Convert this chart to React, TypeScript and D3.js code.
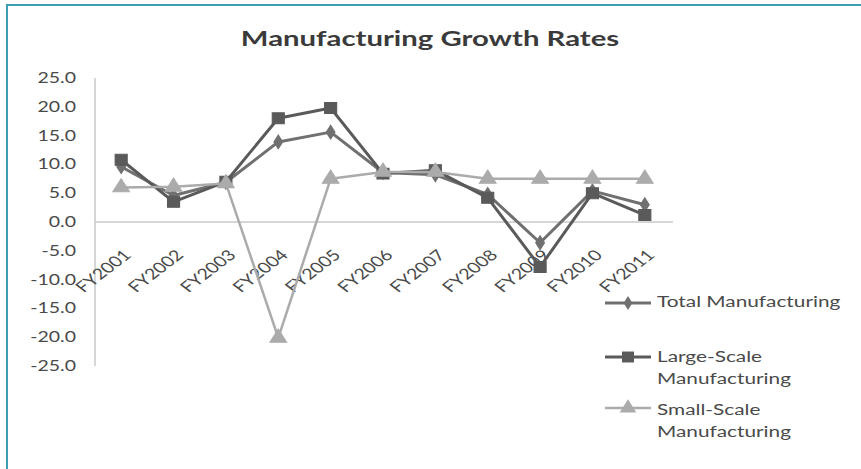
import React from "react";
import * as d3 from "d3";

const categories = ["FY2001","FY2002","FY2003","FY2004","FY2005","FY2006","FY2007","FY2008","FY2009","FY2010","FY2011"];
const totalMfg = [9.6, 4.6, 6.9, 13.9, 15.6, 8.6, 8.2, 4.8, -3.6, 5.4, 3.0];
const largeMfg = [10.8, 3.5, 7.0, 18.0, 19.8, 8.4, 9.0, 4.2, -7.8, 5.0, 1.2];
const smallMfg = [6.0, 6.1, 6.7, -20.1, 7.5, 8.7, 8.7, 7.5, 7.5, 7.5, 7.5];
const yTicks = [25, 20, 15, 10, 5, 0, -5, -10, -15, -20, -25];
const seriesNames = ["Total Manufacturing", "Large-Scale Manufacturing", "Small-Scale Manufacturing"];
const legendLines = [["Total Manufacturing"], ["Large-Scale", "Manufacturing"], ["Small-Scale", "Manufacturing"]];

const FONT = "Lato, 'Open Sans', sans-serif";
const SX = 1.3;

export default function App() {
  const x = d3.scaleBand().domain(categories).range([95, 671]).padding(0);
  const y = d3.scaleLinear().domain([-25, 25]).range([366, 78]);
  const cx = (c: string) => (x(c) as number) + x.bandwidth() / 2;
  const line = d3.line<number>().x((_, i) => cx(categories[i])).y((d) => y(d));

  const series = [
    { name: seriesNames[0], data: totalMfg, color: "#707070", width: 3, marker: "diamond" },
    { name: seriesNames[1], data: largeMfg, color: "#5a5a5a", width: 3, marker: "square" },
    { name: seriesNames[2], data: smallMfg, color: "#ababab", width: 2.5, marker: "triangle" },
  ];

  const sym = (m: string) => {
    if (m === "diamond") return d3.symbol(d3.symbolDiamond, 55)();
    if (m === "square") return d3.symbol(d3.symbolSquare, 120)();
    return d3.symbol(d3.symbolTriangle, 100)();
  };

  const legendY = [303, 357, 408];
  const legendTextY = [[307], [362, 384], [415, 437]];

  return (
    <svg width={861} height={469} style={{ position: "absolute", left: 0, top: 0, background: "#fff" }}>
      <rect x={0} y={0} width={861} height={469} fill="#fff" />
      <line x1={6} x2={861} y1={5} y2={5} stroke="#3d9db3" strokeWidth={2} />
      <line x1={7} x2={7} y1={5} y2={469} stroke="#3d9db3" strokeWidth={2} />
      <g transform={`translate(430,46) scale(${SX},1)`}>
        <text x={0} y={0} textAnchor="middle" fontFamily={FONT} fontWeight="bold" fontSize={21} fill="#3a3a3a" textLength={291} lengthAdjust="spacingAndGlyphs">
          Manufacturing Growth Rates
        </text>
      </g>
      {yTicks.map((t) => (
        <text key={t} transform={`translate(76,${y(t) + 5}) scale(${SX},1)`} textAnchor="end" fontFamily={FONT} fontSize={15} fill="#4a4a4a">
          {t.toFixed(1)}
        </text>
      ))}
      <line x1={95} x2={95} y1={78} y2={366} stroke="#c8c8c8" strokeWidth={1.5} />
      <line x1={95} x2={673} y1={y(0)} y2={y(0)} stroke="#c8c8c8" strokeWidth={1.5} />
      {categories.map((c) => (
        <text key={c} transform={`translate(${cx(c) + 11},${y(0) + 34}) scale(${SX},1) rotate(-45)`} textAnchor="end" fontFamily={FONT} fontSize={15} fill="#4a4a4a">
          {c}
        </text>
      ))}
      {series.map((s) => (
        <g key={s.name}>
          <path d={line(s.data) || ""} fill="none" stroke={s.color} strokeWidth={s.width} strokeLinejoin="round" />
          {s.data.map((v, i) => (
            <path key={i} d={sym(s.marker) || ""} transform={`translate(${cx(categories[i])},${y(v)}) scale(1.1,1)`} fill={s.color} stroke={s.color} strokeWidth={1} />
          ))}
        </g>
      ))}
      {series.map((s, k) => (
        <g key={"lg" + k}>
          <line x1={605} x2={651} y1={legendY[k]} y2={legendY[k]} stroke={s.color} strokeWidth={s.width} />
          <path d={sym(s.marker) || ""} transform={`translate(628,${legendY[k]}) scale(1.1,1)`} fill={s.color} />
          {legendLines[k].map((t, j) => (
            <text key={j} transform={`translate(657,${legendTextY[k][j]}) scale(${SX},1)`} fontFamily={FONT} fontSize={16} fill="#4a4a4a">
              {t}
            </text>
          ))}
        </g>
      ))}
    </svg>
  );
}
